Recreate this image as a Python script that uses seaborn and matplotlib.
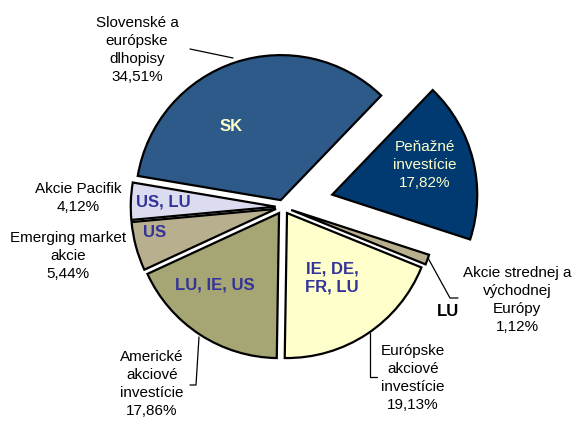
import seaborn as sns
import matplotlib.pyplot as plt

# podiely v portfoliu (proti smeru hodin, od Peňažné investície)
labels = ["Peňažné\ninvestície", "Slovenské a\neurópske\ndlhopisy", "Akcie Pacifik",
          "Emerging market\nakcie", "Americké\nakciové\ninvestície",
          "Európske\nakciové\ninvestície", "Akcie strednej a\nvýchodnej\nEurópy"]
shares = [17.82, 34.51, 4.12, 5.44, 17.86, 19.13, 1.12]
countries = ["", "SK", "US, LU", "US", "LU, IE, US", "IE, DE,\nFR, LU", "LU"]
colors = ["#003A70", "#2E5A8A", "#DCDCF0", "#B8AF8F", "#A6A574", "#FFFFCC", "#B8AF8F"]
explode = [0.35, 0.05, 0.05, 0.05, 0.05, 0.05, 0.06]

def pct(v):
    return ("%.2f%%" % v).replace(".", ",")

sns.set_style("white")
plt.rcParams['font.family'] = ['Liberation Sans', 'DejaVu Sans']

fig = plt.figure(figsize=(5.73, 4.23), dpi=100)
ax = fig.add_axes([0, 0, 1, 1])

H = 423
cx, cy, r = 283, H - 207, 145
# explode is in data units in matplotlib, so scale by radius
ax.pie(shares, colors=colors, explode=[e * r for e in explode], startangle=-18,
       counterclock=True, center=(cx, cy), radius=r, frame=True,
       wedgeprops=dict(edgecolor='black', linewidth=1.6))
ax.set_xlim(0, 573)
ax.set_ylim(0, 423)
ax.set_aspect('equal')
ax.axis('off')

fs = 11
txt = dict(fontsize=fs, ha='center', va='center', linespacing=1.35, color='black')
# popisky kategorii
ax.text(137, H - 50, labels[1] + "\n" + pct(shares[1]), **txt)
ax.text(425, H - 165, labels[0] + "\n" + pct(shares[0]), **{**txt, 'color': '#FFFFCC'})
ax.text(78, H - 198, labels[2] + "\n" + pct(shares[2]), **txt)
ax.text(68, H - 256, labels[3] + "\n" + pct(shares[3]), **txt)
ax.text(152, H - 384, labels[4] + "\n" + pct(shares[4]), **txt)
ax.text(413, H - 378, labels[5] + "\n" + pct(shares[5]), **txt)
ax.text(517, H - 300, labels[6] + "\n" + pct(shares[6]), **txt)

# krajiny
bold = dict(fontsize=12, ha='center', va='center', fontweight='bold', linespacing=1.3)
ax.text(231, H - 126, countries[1], color='#FFFFCC', **bold)
ax.text(163, H - 202, countries[2], color='#333399', **bold)
ax.text(155, H - 232, countries[3], color='#333399', **bold)
ax.text(215, H - 285, countries[4], color='#333399', **bold)
ax.text(332, H - 278, countries[5], color='#333399', **bold)
ax.text(448, H - 312, countries[6], color='black', **bold)

# spojovacie ciary
lw = 0.9
ax.plot([190, 233], [H - 49, H - 58], color='black', lw=lw)
ax.plot([199, 196, 190], [H - 337, H - 385, H - 385], color='black', lw=lw)
ax.plot([370, 370, 377], [H - 333, H - 377, H - 377], color='black', lw=lw)
ax.plot([428, 450, 458], [H - 258, H - 298, H - 298], color='black', lw=lw)

fig.savefig("out.png", dpi=100)
